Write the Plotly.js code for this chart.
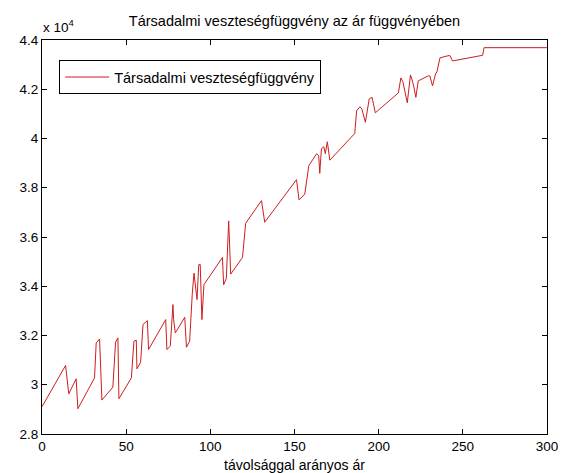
<!DOCTYPE html>
<html>
<head>
<meta charset="utf-8">
<script src="https://cdn.plot.ly/plotly-3.0.1.min.js"></script>
<style>html,body{margin:0;padding:0;background:#fff;}#chart{width:563px;height:473px;}</style>
</head>
<body>
<div id="chart"></div>
<script>
// Price values (x)
const price = [0, 14.0, 15.9, 20.3, 21.3, 31.2, 32.2, 34.2, 35.6, 42.1, 43.7, 45.1, 45.7, 53.1, 54.6, 56.0, 56.4, 58.6, 60.0, 62.6, 63.3, 73.5, 74.2, 76.2, 77.8, 78.2, 79.2, 84.8, 85.8, 87.7, 89.3, 90.3, 92.1, 93.1, 94.0, 95.0, 96.2, 107.2, 107.9, 109.5, 110.9, 111.5, 112.1, 119.1, 121.0, 130.4, 132.3, 151.2, 152.7, 156.1, 158.5, 163.1, 164.4, 165.0, 166.0, 167.4, 168.3, 169.5, 171.0, 185.8, 186.9, 188.8, 190.0, 192.1, 194.4, 196.1, 198.0, 211.7, 213.2, 214.4, 217.0, 218.9, 220.5, 222.1, 223.5, 229.4, 230.4, 232.0, 233.8, 234.6, 236.4, 239.4, 242.3, 243.9, 261.8, 262.6, 300];
// Social loss values (y)
const loss = [29106, 30783, 29632, 30240, 29025, 30281, 31698, 31860, 29377, 29904, 31727, 31901, 29430, 30281, 31767, 31808, 30645, 30917, 32444, 32606, 31431, 32646, 31431, 31565, 33254, 32646, 32104, 32739, 31524, 31767, 33724, 34534, 33456, 34874, 34886, 32646, 34064, 35170, 34064, 34319, 36656, 35615, 34493, 35170, 36559, 37479, 36600, 38329, 37507, 37742, 38896, 39382, 39301, 38584, 39585, 39666, 39382, 39868, 39119, 40205, 41124, 41286, 41205, 40658, 41610, 41671, 41043, 41853, 42461, 42299, 41448, 42582, 42230, 41671, 42339, 42542, 42542, 42137, 42623, 42704, 43271, 43332, 43372, 43149, 43380, 43688, 43688];

const xTicks = [0, 50, 100, 150, 200, 250, 300];
const yTicks = [28000, 30000, 32000, 34000, 36000, 38000, 40000, 42000, 44000];
const yTickText = ['2.8', '3', '3.2', '3.4', '3.6', '3.8', '4', '4.2', '4.4'];

const seriesName = 'Társadalmi veszteségfüggvény';
const chartTitle = 'Társadalmi veszteségfüggvény az ár függvényében';
const xTitle = 'távolsággal arányos ár';

const font = 'Liberation Sans, Arial, sans-serif';

const trace = {
  x: price, y: loss, type: 'scatter', mode: 'lines', name: seriesName,
  line: {color: 'rgb(205,30,30)', width: 1}
};

const layout = {
  width: 563, height: 473,
  margin: {l: 42, r: 16, t: 40, b: 39},
  paper_bgcolor: '#fff', plot_bgcolor: '#fff',
  font: {family: font, size: 13, color: '#000'},
  title: {text: chartTitle, font: {family: font, size: 14.5, color: '#000'}, x: 0.5, xref: 'paper', xanchor: 'center', y: 1 - 21 / 473, yref: 'container', yanchor: 'middle'},
  xaxis: {
    range: [0, 300], tickvals: xTicks, ticktext: xTicks.map(String),
    ticks: 'inside', ticklen: 5, tickcolor: '#000', showline: true, linecolor: '#000', linewidth: 1,
    mirror: 'ticks', showgrid: false, zeroline: false,
    tickfont: {family: font, size: 13.5, color: '#000'},
    title: {text: xTitle, font: {family: font, size: 14, color: '#000'}, standoff: 8}
  },
  yaxis: {
    range: [28000, 44000], tickvals: yTicks, ticktext: yTickText,
    ticks: 'inside', ticklen: 5, tickcolor: '#000', showline: true, linecolor: '#000', linewidth: 1,
    mirror: 'ticks', showgrid: false, zeroline: false,
    tickfont: {family: font, size: 13.5, color: '#000'}
  },
  showlegend: true,
  legend: {
    x: 0.034, y: 0.949, xanchor: 'left', yanchor: 'top',
    bgcolor: '#fff', bordercolor: '#000', borderwidth: 1,
    itemwidth: 44,
    font: {family: font, size: 14.5, color: '#000'}
  },
  annotations: [{
    text: 'x 10<sup>4</sup>', xref: 'paper', yref: 'paper', x: 0, y: 1, xanchor: 'left', yanchor: 'bottom',
    yshift: 4, borderpad: 0, showarrow: false, font: {family: font, size: 13.5, color: '#000'}
  }]
};

Plotly.newPlot('chart', [trace], layout, {displayModeBar: false, staticPlot: true});
</script>
</body>
</html>
